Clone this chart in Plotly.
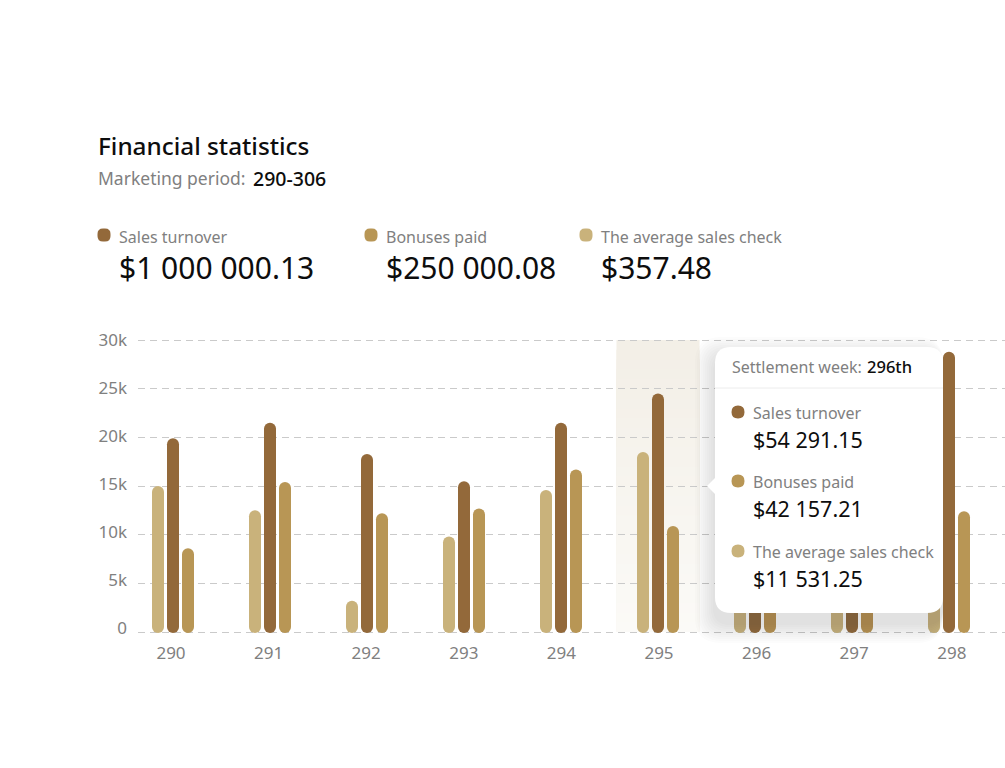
import plotly.graph_objects as go

# values, bars of 296-297 and avg of 298 are behind the tooltip so they are guesses
weeks = [290, 291, 292, 293, 294, 295, 296, 297, 298]
week_labels = ['290', '291', '292', '293', '294', '295', '296', '297', '298']
avg_check = [15000, 12500, 3200, 9800, 14600, 18500, 7000, 6000, 5000]
sales = [19900, 21500, 18300, 15500, 21500, 24500, 9000, 8000, 28800]
bonuses = [8600, 15400, 12200, 12700, 16700, 10900, 6000, 7000, 12400]
y_ticks = [0, 5000, 10000, 15000, 20000, 25000, 30000]
y_labels = ['0', '5k', '10k', '15k', '20k', '25k', '30k']
hover_week = 295

SALES = '#93693A'
BONUS = '#B89655'
AVG = '#C9B27B'
GREY = '#808080'
BLACK = '#0d0d0d'
FONT = 'Noto Sans'
W, H = 1005, 768
BAR_W = 12 / 97
FOOT = -110  # bars start a little under zero, a bar with a base gets both ends rounded
PAD = 200  # keeps the 0 and 30k gridlines inside the axis range
PAD_PX = PAD * 292 / 30000


def px(x):
    return x / W


def py(y):
    return 1 - y / H


def rounded(x0, y0, x1, y1, r):
    # rounded rectangle path in paper coordinates, given in pixels
    p = lambda x, y: f'{px(x)},{py(y)}'
    return (f'M{p(x0 + r, y0)} L{p(x1 - r, y0)} Q{p(x1, y0)} {p(x1, y0 + r)} '
            f'L{p(x1, y1 - r)} Q{p(x1, y1)} {p(x1 - r, y1)} '
            f'L{p(x0 + r, y1)} Q{p(x0, y1)} {p(x0, y1 - r)} '
            f'L{p(x0, y0 + r)} Q{p(x0, y0)} {p(x0 + r, y0)} Z')


def text(x, y, s, size, color=GREY, weight=400):
    fig.add_annotation(x=px(x), y=py(y), xref='paper', yref='paper', text=s, showarrow=False,
                       xanchor='left', yanchor='middle', xshift=-2,
                       font=dict(family=FONT, size=size, color=color, weight=weight))


def dot(x, y, color, r=6.5, corner=5.5):
    fig.add_shape(type='path', path=rounded(x - r, y - r, x + r, y + r, corner), xref='paper', yref='paper',
                  fillcolor=color, line_width=0, layer='above')


fig = go.Figure()

# highlighted week band, fades out to the bottom. each slice runs down to zero so no seams show
steps = 30
for i in range(steps):
    t = i / steps
    c = [int(a + (b - a) * t) for a, b in zip((243, 239, 231), (252, 251, 248))]
    fig.add_shape(type='rect', xref='x', yref='y', layer='below', line_width=0,
                  x0=hover_week - 0.428, x1=hover_week + 0.428,
                  y0=30000 * (1 - t), y1=0,
                  fillcolor=f'rgb({c[0]},{c[1]},{c[2]})')

for name, values, color, dx in [('The average sales check', avg_check, AVG, -15),
                                ('Sales turnover', sales, SALES, 0),
                                ('Bonuses paid', bonuses, BONUS, 15)]:
    fig.add_trace(go.Bar(x=weeks, y=[v - FOOT for v in values], base=FOOT, name=name, width=BAR_W,
                         offset=dx / 97 - BAR_W / 2, marker=dict(color=color, line_width=0)))

# second pair of axes only for the labels, their spacing differs a bit from the bars and gridlines
fig.add_trace(go.Scatter(x=weeks, y=y_ticks[:1] * len(weeks), xaxis='x2', yaxis='y2', mode='markers', opacity=0,
                         showlegend=False))

# tooltip shadow, kept off the right side so the 298 bar keeps its colour
for i in range(10):
    grow = 20 - i * 2
    fig.add_shape(type='path', path=rounded(715 - grow, 347 + 10 - grow, 943, 613 + 10 + grow, 16 + grow / 2),
                  xref='paper', yref='paper', fillcolor='rgba(50,45,40,0.014)', line_width=0, layer='above')
# tooltip card with its arrow
fig.add_shape(type='path', path=f'M{px(716)},{py(477)} L{px(707)},{py(486)} L{px(716)},{py(495)} Z',
              xref='paper', yref='paper', fillcolor='white', line_width=0, layer='above')
fig.add_shape(type='path', path=rounded(715, 347, 943, 613, 16), xref='paper', yref='paper',
              fillcolor='white', line_width=0, layer='above')
fig.add_shape(type='line', xref='paper', yref='paper', x0=px(715), x1=px(943), y0=py(388), y1=py(388),
              line=dict(color='#ececec', width=1), layer='above')

text(98, 146, 'Financial statistics', 24.3, BLACK, 500)
text(98, 178, 'Marketing period:', 17.5)
text(253, 178, '290-306', 19.5, BLACK, 500)

for x, label, amount, color in [(119, 'Sales turnover', '$1 000 000.13', SALES),
                                (386, 'Bonuses paid', '$250 000.08', BONUS),
                                (601, 'The average sales check', '$357.48', AVG)]:
    dot(x - 15, 235, color)
    text(x, 237, label, 16)
    text(x, 268, amount, 30, BLACK)

text(732, 367, 'Settlement week:', 16)
text(867, 367, '296th', 16.5, BLACK, 500)
for y, label, amount, color in [(412, 'Sales turnover', '$54 291.15', SALES),
                                (481, 'Bonuses paid', '$42 157.21', BONUS),
                                (551, 'The average sales check', '$11 531.25', AVG)]:
    dot(738, y, color, 6.5, 6.5)
    text(753, y + 1, label, 16)
    text(753, y + 27, amount, 21.5, BLACK)

y_domain = [(136 - PAD_PX) / H, (428 + PAD_PX) / H]
fig.update_layout(
    width=W, height=H, margin=dict(l=0, r=0, t=0, b=0), barmode='overlay', barcornerradius=6,
    showlegend=False, plot_bgcolor='rgba(0,0,0,0)', paper_bgcolor='white', hovermode=False,
    font=dict(family=FONT, size=17, color=GREY),
    xaxis=dict(domain=[138 / W, 1], range=[290 - 35 / 97, 290 + 832 / 97], showgrid=False, zeroline=False,
               showticklabels=False, showline=False, ticks='', automargin=False),
    xaxis2=dict(domain=[138 / W, 1], overlaying='x', anchor='y2', side='bottom',
                range=[290 - 33 / 97.6, 290 + 834 / 97.6], tickmode='array', tickvals=weeks, ticktext=week_labels,
                showgrid=False, zeroline=False, showline=False, ticks='', ticklabelstandoff=7, automargin=False,
                tickfont=dict(family=FONT, size=17, color=GREY)),
    yaxis=dict(domain=y_domain, range=[-PAD, 30000 + PAD], showticklabels=False, automargin=False,
               tickmode='array', tickvals=y_ticks,
               showgrid=True, gridcolor='#cacaca', gridwidth=1, griddash='7px,5px', zeroline=False, showline=False,
               ticks=''),
    yaxis2=dict(domain=y_domain, overlaying='y', anchor='x2', side='left', range=[-620, 30203], tickmode='array',
                tickvals=y_ticks, ticktext=y_labels, automargin=False, showgrid=False, zeroline=False,
                showline=False, ticks='', ticklabelstandoff=10, tickfont=dict(family=FONT, size=17, color=GREY)),
)

fig.write_html('out.html', config=dict(displayModeBar=False), post_script="document.body.style.margin='0';")
